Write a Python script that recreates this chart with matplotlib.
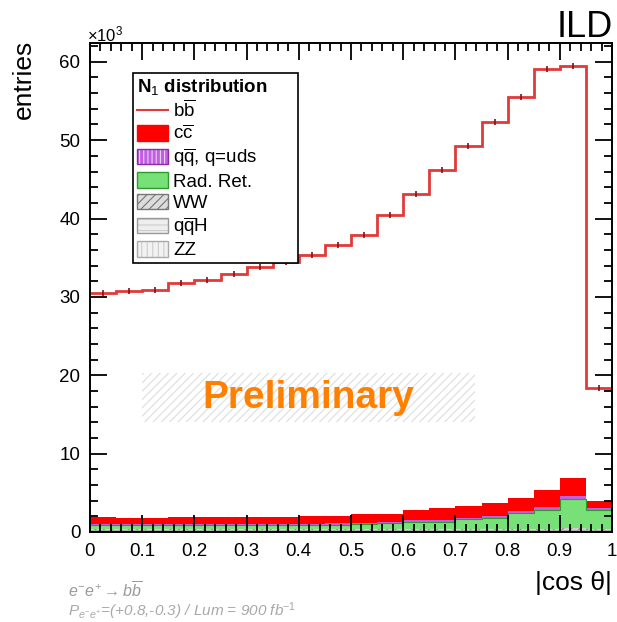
import numpy as np
import matplotlib
matplotlib.use("Agg")
import matplotlib.pyplot as plt
from matplotlib.patches import Patch, Rectangle
from matplotlib.lines import Line2D
from matplotlib.legend_handler import HandlerTuple
from matplotlib.ticker import MultipleLocator

plt.rcParams['font.family'] = ['Liberation Sans', 'DejaVu Sans']
plt.rcParams['mathtext.fontset'] = 'custom'
plt.rcParams['mathtext.rm'] = 'Liberation Sans'
plt.rcParams['mathtext.it'] = 'Liberation Sans:italic'
plt.rcParams['hatch.linewidth'] = 0.8

# |cos theta| binning, 20 bins
edges = np.linspace(0.0, 1.0, 21)

# entries per bin, in units of 10^3
bb = [30.5, 30.8, 30.9, 31.8, 32.1, 32.9, 33.8, 34.4, 35.3, 36.6,
      37.9, 40.4, 43.1, 46.2, 49.2, 52.3, 55.5, 59.1, 59.5, 18.4]
zz = [0.12, 0.12, 0.12, 0.12, 0.12, 0.12, 0.12, 0.12, 0.12, 0.12,
      0.12, 0.13, 0.13, 0.13, 0.14, 0.14, 0.15, 0.15, 0.16, 0.14]
qqh = [0.08, 0.08, 0.08, 0.08, 0.08, 0.08, 0.08, 0.08, 0.08, 0.08,
       0.08, 0.08, 0.08, 0.08, 0.09, 0.09, 0.10, 0.10, 0.12, 0.10]
ww = [0.15, 0.15, 0.15, 0.15, 0.15, 0.15, 0.15, 0.15, 0.15, 0.15,
      0.15, 0.15, 0.16, 0.16, 0.17, 0.17, 0.18, 0.18, 0.20, 0.16]
radret = [0.50, 0.50, 0.50, 0.50, 0.50, 0.50, 0.50, 0.55, 0.55, 0.60,
          0.65, 0.80, 0.93, 0.93, 1.20, 1.40, 1.97, 2.37, 3.72, 2.40]
qq = [0.12, 0.12, 0.12, 0.12, 0.12, 0.13, 0.13, 0.14, 0.14, 0.15,
      0.15, 0.16, 0.17, 0.18, 0.20, 0.22, 0.25, 0.35, 0.40, 0.30]
cc = [0.93, 0.88, 0.88, 0.93, 0.93, 0.92, 0.97, 0.91, 0.96, 1.00,
      1.15, 1.00, 1.33, 1.52, 1.50, 1.68, 1.75, 2.25, 2.30, 0.80]

# stack order bottom -> top, with fill styles
stack = [
    (zz, dict(facecolor='#eeeeee', edgecolor='#bbbbbb', hatch='|||')),
    (qqh, dict(facecolor='#e4e4e4', edgecolor='#aaaaaa', hatch='---')),
    (ww, dict(facecolor='#d0d0d0', edgecolor='#888888', hatch='////')),
    (radret, dict(facecolor='#77e077', edgecolor='#2e9a2e', hatch=None)),
    (qq, dict(facecolor='#c060e0', edgecolor='#8a2aa8', hatch=None)),
    (cc, dict(facecolor='#ff0000', edgecolor='#ff0000', hatch=None)),
]

fig = plt.figure(figsize=(6.17, 6.22), dpi=100)
ax = fig.add_axes([90 / 617, 1 - 532 / 622, 522 / 617, 489 / 622])

base = np.zeros(len(bb))
for vals, style in stack:
    top = base + np.asarray(vals)
    ax.stairs(top, edges, baseline=base, fill=True, linewidth=0,
              facecolor=style['facecolor'], edgecolor=style['edgecolor'],
              hatch=style['hatch'])
    base = top
# outline of the Rad. Ret. layer
green_top = np.asarray(zz) + np.asarray(qqh) + np.asarray(ww) + np.asarray(radret)
ax.stairs(green_top, edges, baseline=None, color='#2e9a2e', lw=0.8)

ax.stairs(bb, edges, baseline=None, color='#e03a3a', lw=2.0)
centers = 0.5 * (edges[1:] + edges[:-1])
ax.plot(centers, bb, ls='none', marker='|', ms=4, mew=1.2, color='#8a1010')

ax.set_xlim(0, 1)
ax.set_ylim(0, 62.4)
ax.xaxis.set_major_locator(MultipleLocator(0.1))
ax.xaxis.set_minor_locator(MultipleLocator(0.02))
ax.yaxis.set_major_locator(MultipleLocator(10))
ax.yaxis.set_minor_locator(MultipleLocator(2))
ax.set_xticks(np.arange(0, 1.01, 0.1))
ax.set_xticklabels(['0', '0.1', '0.2', '0.3', '0.4', '0.5', '0.6', '0.7', '0.8', '0.9', '1'])
ax.tick_params(which='both', direction='in', top=True, right=True,
               width=1.3, labelsize=13.5, color='black')
ax.tick_params(which='major', length=12)
ax.tick_params(which='minor', length=6)
ax.tick_params(axis='x', pad=8)
ax.tick_params(axis='y', pad=7)
for sp in ax.spines.values():
    sp.set_linewidth(1.4)

fig.text(24 / 617, 1 - 40 / 622, 'entries', rotation=90, ha='center', va='top',
         fontsize=19)
fig.text(612 / 617, 1 - 583 / 622, '|cos θ|', ha='right', va='center',
         fontsize=19)
fig.text(87 / 617, 1 - 41 / 622, r'$\times$10$^{3}$', ha='left', va='baseline',
         fontsize=12)
fig.text(613 / 617, 1 - 37 / 622, 'ILD', ha='right', va='baseline',
         fontsize=26)

# preliminary stamp over a hatched band
band = Rectangle((142 / 617, 1 - 422 / 622), 333 / 617, 49 / 622,
                 transform=fig.transFigure, facecolor='none',
                 edgecolor='#dddddd', hatch='////', lw=0, zorder=3)
fig.patches.append(band)
fig.text(308 / 617, 1 - 398 / 622, 'Preliminary', ha='center', va='center',
         fontsize=28, fontweight='bold', color='#ff8000', zorder=4)

handles = [
    Line2D([], [], color='#e03a3a', lw=1.5),
    Patch(facecolor='#ff0000', edgecolor='#ff0000'),
    (Patch(facecolor='#c060e0', edgecolor='#eeccff', hatch='||||', lw=0),
     Patch(facecolor='none', edgecolor='#8a2aa8', lw=1.0)),
    Patch(facecolor='#77e077', edgecolor='#2e9a2e', lw=1.0),
    (Patch(facecolor='#dddddd', edgecolor='#777777', hatch='////', lw=0),
     Patch(facecolor='none', edgecolor='#777777', lw=1.0)),
    (Patch(facecolor='#eeeeee', edgecolor='#cccccc', hatch='---', lw=0),
     Patch(facecolor='none', edgecolor='#999999', lw=1.0)),
    (Patch(facecolor='#f2f2f2', edgecolor='#cccccc', hatch='|||', lw=0),
     Patch(facecolor='none', edgecolor='#aaaaaa', lw=1.0)),
]
labels = [r'b$\overline{\rm b}$', r'c$\overline{\rm c}$',
          r'q$\overline{\rm q}$, q=uds', 'Rad. Ret.', 'WW',
          r'q$\overline{\rm q}$H', 'ZZ']
leg = ax.legend(handles, labels, loc='upper left',
                bbox_to_anchor=(0.082, 0.939), fontsize=13.5,
                title=r'N$_{\rm 1}$ distribution      ', title_fontsize=13.5,
                frameon=True, fancybox=False, edgecolor='black',
                framealpha=1, borderpad=0.2, labelspacing=0.17,
                handlelength=1.7, handleheight=0.9, handletextpad=0.25,
                borderaxespad=0, alignment='left',
                handler_map={tuple: HandlerTuple(ndivide=1, pad=0)})
leg.get_frame().set_linewidth(1.2)
leg.get_title().set_fontweight('bold')

fig.text(68 / 617, 1 - 598 / 622, r'$e^{-}e^{+} \rightarrow b\overline{b}$',
         ha='left', va='baseline', fontsize=11.5, color='#9a9a9a')
fig.text(68 / 617, 1 - 616 / 622,
         r'$P_{e^{-}e^{+}}$=(+0.8,-0.3) / Lum = 900 fb$^{-1}$',
         ha='left', va='baseline', fontsize=11, color='#a8a8a8', style='italic')

fig.savefig('out.png', dpi=100)
